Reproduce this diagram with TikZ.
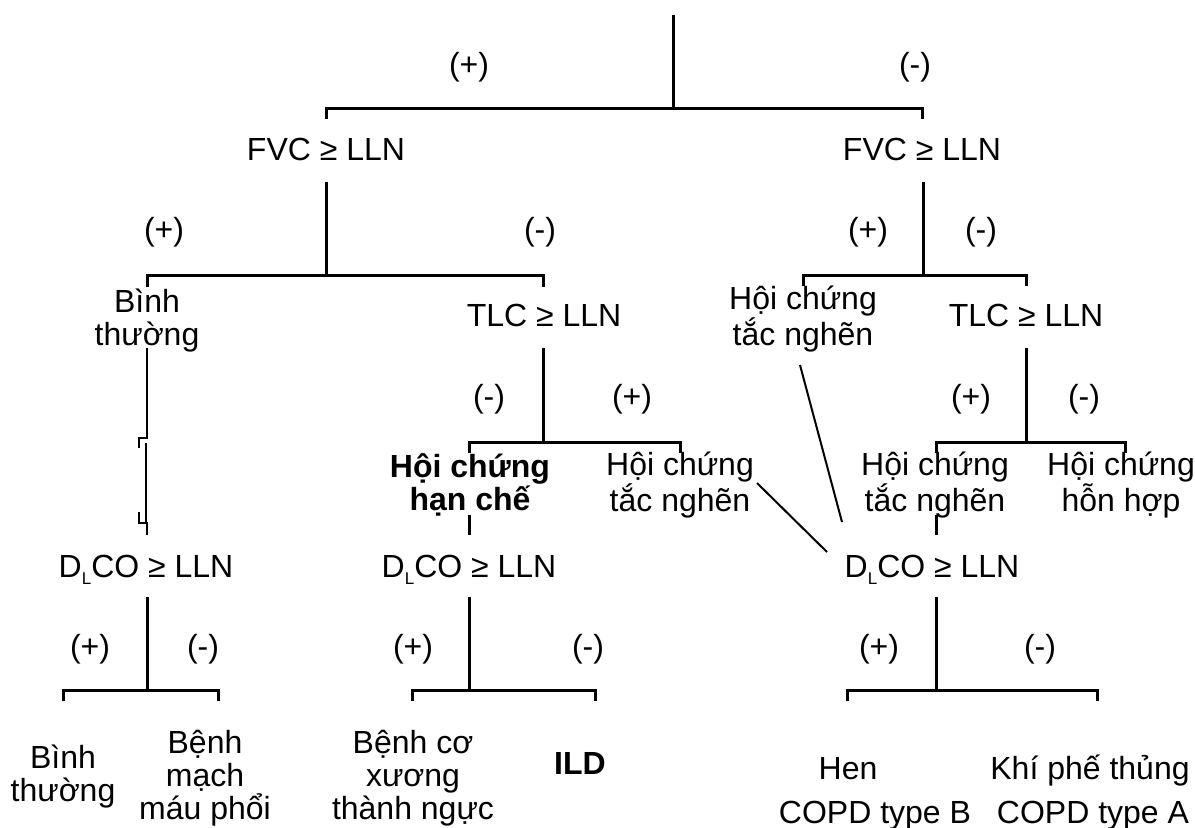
\documentclass[tikz,border=0pt]{standalone}
\usepackage{fontspec}
\setmainfont{Liberation Sans}
\newcommand{\dlco}{D\raisebox{-3.5pt}{\fontsize{8.5}{9}\selectfont L}CO ≥ LLN}
\begin{document}
\begin{tikzpicture}[x=0.5pt,y=-0.5pt,
  every node/.style={font=\fontsize{16}{16.5}\selectfont, inner sep=0pt},
  lbl/.style={anchor=base},
  txt/.style={align=center, anchor=center},
  bold/.style={font=\fontsize{16}{16.5}\selectfont\bfseries},
  ln/.style={line width=1.5pt},
  thinln/.style={line width=1pt}]
\useasboundingbox (0,0) rectangle (1195,827);

% ---------- level 1
\coordinate (t0) at (673,15);
\coordinate (t1) at (673,108);
\coordinate (tL) at (326,108);
\coordinate (tL2) at (326,119);
\coordinate (tR) at (922,108);
\coordinate (tR2) at (922,119);
\draw[ln] (t0) -- (t1);
\draw[ln] (tL2) -- (tL) -- (tR) -- (tR2);
\node[lbl] (pT) at (469,75) {(+)};
\node[lbl] (mT) at (915,75) {(-)};

% ---------- level 2
\node[lbl] (fvcL) at (326,160) {FVC ≥ LLN};
\node[lbl] (fvcR) at (922,160) {FVC ≥ LLN};

\coordinate (a0) at (326,182);
\coordinate (a1) at (326,275);
\coordinate (aL) at (147,275);
\coordinate (aL2) at (147,287);
\coordinate (aR) at (543,275);
\coordinate (aR2) at (543,287);
\draw[ln] (a0) -- (a1);
\draw[ln] (aL2) -- (aL) -- (aR) -- (aR2);
\node[lbl] (p1) at (164,240) {(+)};
\node[lbl] (m1) at (540,240) {(-)};

\coordinate (b0) at (923,182);
\coordinate (b1) at (923,275);
\coordinate (bL) at (803,275);
\coordinate (bL2) at (803,286);
\coordinate (bR) at (1026,275);
\coordinate (bR2) at (1026,286);
\draw[ln] (b0) -- (b1);
\draw[ln] (bL2) -- (bL) -- (bR) -- (bR2);
\node[lbl] (p2) at (868,240) {(+)};
\node[lbl] (m2) at (981,240) {(-)};

% ---------- level 3
\node[txt] (binh1) at (147,321) {Bình\\thường};
\node[lbl] (tlcL) at (544,326) {TLC ≥ LLN};
\node[txt] (tn1) at (803,319) {Hội chứng\\tắc nghẽn};
\node[lbl] (tlcR) at (1026,326) {TLC ≥ LLN};

% broken connector below "Binh thuong"
\coordinate (c0) at (147,348);
\coordinate (c1) at (147,438);
\coordinate (c2) at (139,438);
\coordinate (c3) at (139,448);
\coordinate (c4) at (146,443);
\coordinate (c5) at (146,523);
\coordinate (c6) at (139,512);
\coordinate (c7) at (139,523);
\coordinate (c8) at (147,523);
\coordinate (c9) at (147,535);
\draw[thinln] (c0) -- (c1) -- (c2) -- (c3);
\draw[thinln] (c4) -- (c5);
\draw[thinln] (c6) -- (c7) -- (c8) -- (c9);

\coordinate (d0) at (543,348);
\coordinate (d1) at (543,442);
\coordinate (dL) at (469,442);
\coordinate (dL2) at (469,453);
\coordinate (dR) at (680,442);
\coordinate (dR2) at (680,453);
\draw[ln] (d0) -- (d1);
\draw[ln] (dL2) -- (dL) -- (dR) -- (dR2);
\node[lbl] (m3) at (489,407) {(-)};
\node[lbl] (p3) at (632,407) {(+)};

\coordinate (e0) at (1026,348);
\coordinate (e1) at (1026,442);
\coordinate (eL) at (936,442);
\coordinate (eL2) at (936,453);
\coordinate (eR) at (1125,442);
\coordinate (eR2) at (1125,453);
\draw[ln] (e0) -- (e1);
\draw[ln] (eL2) -- (eL) -- (eR) -- (eR2);
\node[lbl] (p4) at (971,407) {(+)};
\node[lbl] (m4) at (1084,407) {(-)};

% ---------- level 3b
\node[txt,bold] (hc) at (470,485) {Hội chứng\\hạn chế};
\node[txt] (tn2) at (680,485) {Hội chứng\\tắc nghẽn};
\node[txt] (tn3) at (935,485) {Hội chứng\\tắc nghẽn};
\node[txt] (hh) at (1121,485) {Hội chứng\\hỗn hợp};

\coordinate (f0) at (469,515);
\coordinate (f1) at (469,535);
\draw[ln] (f0) -- (f1);
\coordinate (g0) at (936,515);
\coordinate (g1) at (936,535);
\draw[ln] (g0) -- (g1);
\coordinate (h0) at (757,483);
\coordinate (h1) at (827,552);
\draw[thinln] (h0) -- (h1);
\coordinate (k0) at (800,365);
\coordinate (k1) at (842,522);
\draw[thinln] (k0) -- (k1);

% ---------- level 4
\node[lbl] (dlL) at (146,577) {\dlco};
\node[lbl] (dlM) at (469,577) {\dlco};
\node[lbl] (dlR) at (932,577) {\dlco};

\coordinate (m0) at (147,597);
\coordinate (m1c) at (147,690);
\coordinate (mL) at (63,690);
\coordinate (mL2) at (63,701);
\coordinate (mR) at (218,690);
\coordinate (mR2) at (218,701);
\draw[ln] (m0) -- (m1c);
\draw[ln] (mL2) -- (mL) -- (mR) -- (mR2);
\node[lbl] (p5) at (90,657) {(+)};
\node[lbl] (m5) at (203,657) {(-)};

\coordinate (n0) at (469,597);
\coordinate (n1) at (469,690);
\coordinate (nL) at (412,690);
\coordinate (nL2) at (412,701);
\coordinate (nR) at (595,690);
\coordinate (nR2) at (595,701);
\draw[ln] (n0) -- (n1);
\draw[ln] (nL2) -- (nL) -- (nR) -- (nR2);
\node[lbl] (p6) at (413,657) {(+)};
\node[lbl] (m6) at (588,657) {(-)};

\coordinate (q0) at (936,597);
\coordinate (q1) at (936,690);
\coordinate (qL) at (847,690);
\coordinate (qL2) at (847,701);
\coordinate (qR) at (1097,690);
\coordinate (qR2) at (1097,701);
\draw[ln] (q0) -- (q1);
\draw[ln] (qL2) -- (qL) -- (qR) -- (qR2);
\node[lbl] (p7) at (879,657) {(+)};
\node[lbl] (m7) at (1040,657) {(-)};

% ---------- leaves
\node[txt] (r1) at (63,777) {Bình\\thường};
\node[txt] (r2) at (205,778) {Bệnh\\mạch\\máu phổi};
\node[txt] (r3) at (413,778) {Bệnh cơ\\xương\\thành ngực};
\node[lbl,bold] (ild) at (580,774) {ILD};
\node[lbl] (hen) at (848,779) {Hen};
\node[lbl] (copdB) at (875,823) {COPD type B};
\node[lbl] (khi) at (1090,779) {Khí phế thủng};
\node[lbl] (copdA) at (1093,823) {COPD type A};
\end{tikzpicture}
\end{document}
